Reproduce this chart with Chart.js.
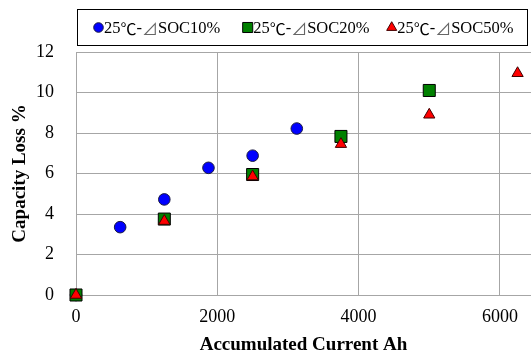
<!DOCTYPE html>
<html>
<head>
<meta charset="utf-8">
<script src="https://cdn.jsdelivr.net/npm/chart.js@4.4.0/dist/chart.umd.min.js"></script>
<style>
  html, body { margin: 0; padding: 0; background: #fff; }
  #wrap { width: 531px; height: 356px; position: relative; }
</style>
</head>
<body>
<div id="wrap"><canvas id="chart"></canvas></div>
<script>
// values
const seriesNames = ['25℃-⊿SOC10%', '25℃-⊿SOC20%', '25℃-⊿SOC50%'];
const soc10X = [0, 625, 1250, 1875, 2500, 3125];
const soc10Y = [0, 3.35, 4.72, 6.28, 6.88, 8.22];
const soc20X = [0, 1250, 2500, 3750, 5000];
const soc20Y = [0, 3.75, 5.95, 7.83, 10.1];
const soc50X = [0, 1250, 2500, 3750, 5000, 6250];
const soc50Y = [0, 3.65, 5.85, 7.45, 8.9, 10.95];
const xTicks = [0, 2000, 4000, 6000];
const yTicks = [0, 2, 4, 6, 8, 10, 12];

const FONT = "'Liberation Serif', 'Times New Roman', serif";
const CJK = "'Noto Sans CJK JP', sans-serif";
const GRID = '#a6a6a6';

function pts(xs, ys) {
  return xs.map((x, i) => ({ x: x, y: ys[i] }));
}

const styles = [
  { pointStyle: 'circle', bg: '#0000ff', border: '#1a1a40', r: 5.8, lr: 4.8, lx: 98.5 },
  { pointStyle: 'rect', bg: '#008000', border: '#000000', r: 8.5, lr: 7.1, lx: 247.7 },
  { pointStyle: 'triangle', bg: '#ff0000', border: '#400000', r: 6.5, lr: 5.8, lx: 391.7 }
];

const datasets = [pts(soc10X, soc10Y), pts(soc20X, soc20Y), pts(soc50X, soc50Y)].map((d, i) => ({
  label: seriesNames[i],
  data: d,
  pointStyle: styles[i].pointStyle,
  backgroundColor: styles[i].bg,
  borderColor: styles[i].border,
  borderWidth: 1,
  pointRadius: styles[i].r,
  pointHoverRadius: styles[i].r,
  showLine: false,
  clip: false,
  order: 3 - i
}));

// draw a label run by run so ℃ and ⊿ come out full width
function drawLabel(ctx, text, x, y) {
  const runs = text.match(/[℃⊿]|[^℃⊿]+/g);
  runs.forEach(r => {
    const wide = r === '℃' || r === '⊿';
    ctx.font = wide ? '16px ' + CJK : '16.5px ' + FONT;
    ctx.fillStyle = r === '⊿' ? '#666' : '#000';
    ctx.fillText(r, x, y);
    x += ctx.measureText(r).width;
  });
}

// boxed legend above the plot
const boxLegend = {
  id: 'boxLegend',
  afterDraw(chart) {
    const ctx = chart.ctx;
    ctx.save();
    ctx.strokeStyle = '#000';
    ctx.lineWidth = 1;
    ctx.strokeRect(77.5, 9.5, 450, 36);
    ctx.textBaseline = 'middle';
    seriesNames.forEach((name, i) => {
      const s = styles[i];
      ctx.fillStyle = s.bg;
      ctx.strokeStyle = s.border;
      ctx.lineWidth = 1;
      Chart.helpers.drawPoint(ctx, { pointStyle: s.pointStyle, radius: s.lr, rotation: 0, borderWidth: 1 }, s.lx, 27.5);
      drawLabel(ctx, name, s.lx + 5.5, 28.5);
    });
    // top border of plot
    const a = chart.chartArea;
    ctx.strokeStyle = GRID;
    ctx.beginPath();
    ctx.moveTo(a.left, a.top + 0.5);
    ctx.lineTo(a.right, a.top + 0.5);
    ctx.stroke();
    ctx.restore();
  }
};

new Chart(document.getElementById('chart'), {
  type: 'scatter',
  data: { datasets: datasets },
  options: {
    responsive: true,
    maintainAspectRatio: false,
    animation: false,
    layout: { autoPadding: false, padding: { top: 52, right: 0, left: 0, bottom: 0 } },
    plugins: {
      legend: { display: false },
      tooltip: { enabled: false }
    },
    scales: {
      x: {
        type: 'linear',
        min: 0,
        max: 6440,
        afterBuildTicks: (s) => { s.ticks = xTicks.map(v => ({ value: v })); },
        afterFit: (s) => { s.height = 61; s.paddingRight = 0; s.paddingLeft = 0; },
        grid: { color: GRID, lineWidth: 1, drawTicks: false },
        border: { color: GRID },
        ticks: { color: '#000', font: { family: FONT, size: 18 }, padding: 11, maxRotation: 0, callback: v => String(v) },
        title: {
          display: true,
          text: 'Accumulated Current Ah',
          color: '#000',
          font: { family: FONT, size: 19, weight: 'bold' },
          padding: { top: 2, bottom: 0 }
        }
      },
      y: {
        min: 0,
        max: 12,
        afterBuildTicks: (s) => { s.ticks = yTicks.map(v => ({ value: v })); },
        afterFit: (s) => { s.width = 76; },
        grid: { color: GRID, lineWidth: 1, drawTicks: false },
        border: { color: GRID },
        ticks: { color: '#000', font: { family: FONT, size: 18 }, padding: 22, callback: v => String(v) },
        title: {
          display: true,
          text: 'Capacity Loss %',
          color: '#000',
          font: { family: FONT, size: 19, weight: 'bold' },
          padding: { bottom: 0, top: 9 }
        }
      }
    }
  },
  plugins: [boxLegend]
});
</script>
</body>
</html>
